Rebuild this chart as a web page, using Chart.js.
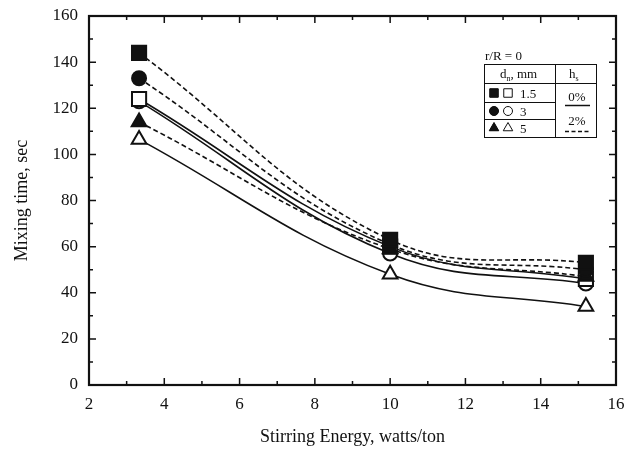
<!doctype html>
<html lang="en">
<head>
<meta charset="utf-8">
<title>Mixing time vs stirring energy</title>
<style>
  html, body { margin:0; padding:0; background:#fff; }
  #wrap { width:628px; height:449px; }
</style>
</head>
<body>
<div id="wrap"><canvas id="mixChart" width="628" height="449"></canvas></div>

<script src="https://cdn.jsdelivr.net/npm/chart.js"></script>
<script>
// stirring energy (watts/ton)
const energy = [3.33, 10, 15.2];

// mixing time (sec), hs = 2% (filled markers, dashed lines)
const dn15_hs2 = [144, 63, 53];
const dn3_hs2  = [133, 61, 50];
const dn5_hs2  = [114, 59, 47];
// hs = 0% (open markers, solid lines)
const dn15_hs0 = [124, 60, 46];
const dn3_hs0  = [123, 57, 44];
const dn5_hs0  = [106.5, 48, 34];

const xTicks = [2, 4, 6, 8, 10, 12, 14, 16];
const yTicks = [0, 20, 40, 60, 80, 100, 120, 140, 160];

const ink = '#111';
const serif = "'Liberation Serif', 'DejaVu Serif', serif";

function pts(ys) {
    return energy.map((x, i) => ({x: x, y: ys[i]}));
}

function series(label, ys, style, filled, dashed, radius) {
    return {
        label: label,
        data: pts(ys),
        borderColor: ink,
        borderWidth: 1.6,
        borderDash: dashed ? [5, 3] : [],
        tension: 0.4,
        pointStyle: style,
        pointRadius: radius,
        pointBorderWidth: 2,
        pointBorderColor: ink,
        pointBackgroundColor: filled ? ink : '#fff',
        fill: false
    };
}

// inward ticks on all four sides plus the frame
const frameTicks = {
    id: 'frameTicks',
    afterDatasetsDraw(chart) {
        const {ctx, chartArea: a, scales: {x, y}} = chart;
        ctx.save();
        ctx.strokeStyle = ink;
        ctx.lineWidth = 1.5;
        for (let v = 2; v <= 16; v += 1) {
            const px = x.getPixelForValue(v);
            const len = v % 2 === 0 ? 7 : 4;
            ctx.beginPath();
            ctx.moveTo(px, a.bottom); ctx.lineTo(px, a.bottom - len);
            ctx.moveTo(px, a.top); ctx.lineTo(px, a.top + len);
            ctx.stroke();
        }
        for (let v = 0; v <= 160; v += 10) {
            const py = y.getPixelForValue(v);
            const len = v % 20 === 0 ? 7 : 4;
            ctx.beginPath();
            ctx.moveTo(a.left, py); ctx.lineTo(a.left + len, py);
            ctx.moveTo(a.right, py); ctx.lineTo(a.right - len, py);
            ctx.stroke();
        }
        ctx.lineWidth = 2.2;
        ctx.strokeRect(a.left, a.top, a.right - a.left, a.bottom - a.top);
        ctx.restore();
    }
};

// the little table in the upper right
const tableLegend = {
    id: 'tableLegend',
    afterDraw(chart) {
        const ctx = chart.ctx;
        const L = 484, R = 596, T = 64, B = 137, mid = 555;
        ctx.save();
        ctx.fillStyle = ink;
        ctx.strokeStyle = ink;
        ctx.font = '13px ' + serif;
        ctx.textBaseline = 'alphabetic';
        ctx.textAlign = 'left';
        ctx.fillText('r/R = 0', 485, 60);

        ctx.lineWidth = 1;
        ctx.strokeRect(L + 0.5, T + 0.5, R - L, B - T);
        ctx.beginPath();
        ctx.moveTo(L, 83.5); ctx.lineTo(R, 83.5);
        ctx.moveTo(mid + 0.5, T); ctx.lineTo(mid + 0.5, B);
        ctx.moveTo(L, 102.5); ctx.lineTo(mid, 102.5);
        ctx.moveTo(L, 119.5); ctx.lineTo(mid, 119.5);
        ctx.stroke();

        // header: d_n, mm  |  h_s
        ctx.fillText('d', 500, 78);
        let w = ctx.measureText('d').width;
        ctx.font = '8px ' + serif;
        ctx.fillText('n', 500 + w, 81);
        let w2 = ctx.measureText('n').width;
        ctx.font = '13px ' + serif;
        ctx.fillText(', mm', 500 + w + w2, 78);
        ctx.fillText('h', 569, 78);
        w = ctx.measureText('h').width;
        ctx.font = '8px ' + serif;
        ctx.fillText('s', 569 + w, 81);
        ctx.font = '13px ' + serif;

        const rows = [
            {style: 'rect', r: 6, y: 93, text: '1.5'},
            {style: 'circle', r: 4.5, y: 111, text: '3'},
            {style: 'triangle', r: 5.5, y: 128, text: '5'}
        ];
        rows.forEach(row => {
            ctx.fillStyle = ink;
            Chart.helpers.drawPoint(ctx, {pointStyle: row.style, radius: row.r, borderWidth: 1.5}, 494, row.y);
            ctx.fill();
            ctx.fillStyle = '#fff';
            Chart.helpers.drawPoint(ctx, {pointStyle: row.style, radius: row.r, borderWidth: 2}, 508, row.y);
            ctx.fillStyle = ink;
            ctx.fillText(row.text, 520, row.y + 5);
        });

        ctx.textAlign = 'center';
        ctx.fillText('0%', 577, 101);
        ctx.fillText('2%', 577, 125);
        ctx.lineWidth = 1.5;
        ctx.beginPath();
        ctx.moveTo(565, 105.5); ctx.lineTo(590, 105.5);
        ctx.stroke();
        ctx.setLineDash([4, 2.5]);
        ctx.beginPath();
        ctx.moveTo(565, 131.5); ctx.lineTo(590, 131.5);
        ctx.stroke();
        ctx.restore();
    }
};

new Chart(document.getElementById('mixChart'), {
    type: 'line',
    data: {
        datasets: [
            series('1.5 mm, 2%', dn15_hs2, 'rect', true, true, 10),
            series('3 mm, 2%', dn3_hs2, 'circle', true, true, 7),
            series('5 mm, 2%', dn5_hs2, 'triangle', true, true, 8.5),
            series('1.5 mm, 0%', dn15_hs0, 'rect', false, false, 10),
            series('3 mm, 0%', dn3_hs0, 'circle', false, false, 7),
            series('5 mm, 0%', dn5_hs0, 'triangle', false, false, 8.5)
        ]
    },
    options: {
        responsive: false,
        animation: false,
        devicePixelRatio: 1,
        layout: {padding: {top: 16, right: 10, left: 0, bottom: 0}},
        plugins: {legend: {display: false}, tooltip: {enabled: false}},
        scales: {
            x: {
                type: 'linear',
                min: 2, max: 16,
                afterBuildTicks: s => { s.ticks = xTicks.map(v => ({value: v})); },
                afterFit: s => { s.height = 64; s.paddingLeft = 0; s.paddingRight = 0; },
                grid: {display: false, drawTicks: false},
                border: {display: false},
                ticks: {color: ink, padding: 9, maxRotation: 0, font: {family: serif, size: 17}},
                title: {display: true, text: 'Stirring Energy, watts/ton', color: ink,
                        font: {family: serif, size: 18}, padding: {top: 4, bottom: 1}}
            },
            y: {
                min: 0, max: 160,
                afterBuildTicks: s => { s.ticks = yTicks.map(v => ({value: v})); },
                afterFit: s => { s.width = 89; s.paddingTop = 0; s.paddingBottom = 0; },
                grid: {display: false, drawTicks: false},
                border: {display: false},
                ticks: {color: ink, padding: 11, font: {family: serif, size: 17}},
                title: {display: true, text: 'Mixing time, sec', color: ink,
                        font: {family: serif, size: 18}, padding: {top: 11, bottom: 4}}
            }
        }
    },
    plugins: [frameTicks, tableLegend]
});
</script>
</body>
</html>
